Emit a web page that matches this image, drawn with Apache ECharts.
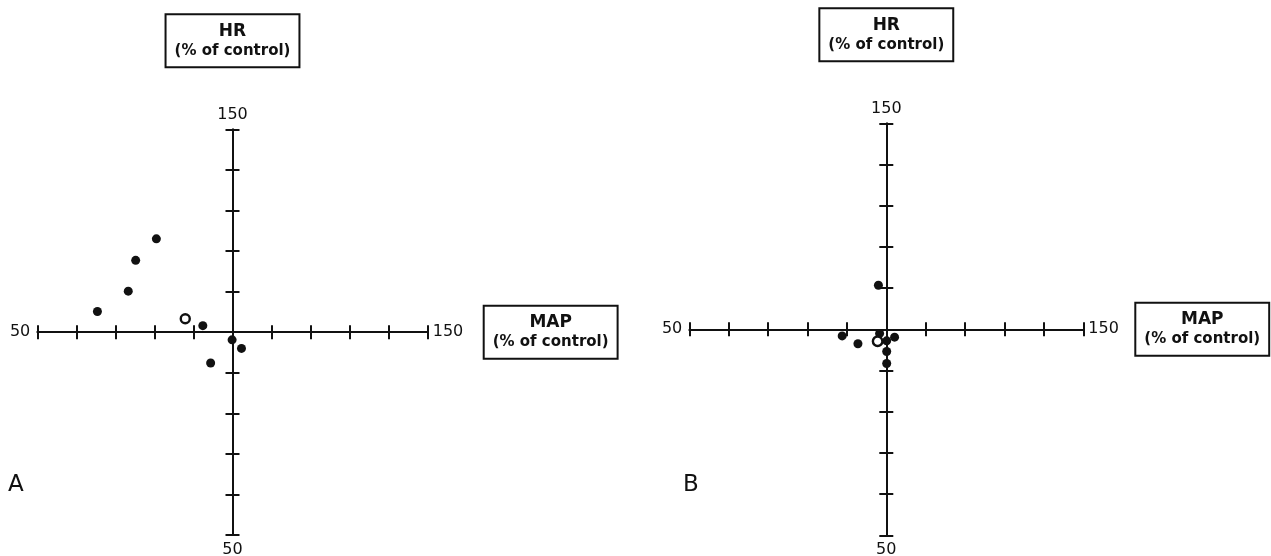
<!DOCTYPE html>
<html>
<head>
<meta charset="utf-8">
<script src="https://cdn.jsdelivr.net/npm/echarts@6/dist/echarts.min.js"></script>
<style>
  html, body { margin: 0; padding: 0; background: #fff; }
  #chart { width: 1271px; height: 556px; }
</style>
</head>
<body>
<div id="chart"></div>
<script>
// Panel A: mean arterial pressure vs heart rate, both as % of control
const mapA = [65.4, 73.3, 75.2, 80.5, 92.4, 99.9, 102.3, 94.4];
const hrA  = [105.1, 110.1, 117.7, 123.0, 101.6, 98.1, 96.0, 92.4];
const mapAOpen = [87.9];
const hrAOpen  = [103.3];

// Panel B
const mapB = [98.0, 88.8, 92.8, 98.3, 100.1, 102.1, 100.1, 100.1];
const hrB  = [110.7, 98.4, 96.5, 99.0, 97.2, 98.1, 94.6, 91.7];
const mapBOpen = [97.8];
const hrBOpen  = [97.1];

// Axis scale (% of control); axes cross at the control value
const axisMin = 50;
const axisMax = 150;
const axisStep = 10;
const control = 100;

const panelLetters = ['A', 'B'];
const hrTitle = 'HR';
const mapTitle = 'MAP';
const unitText = '(% of control)';

const FONT = "'DejaVu Sans', sans-serif";
const INK = '#111';

// Points are plotted as offsets from control so the axis lines sit on 0
const lo = axisMin - control;
const hi = axisMax - control;
const toPoints = (xs, ys) => xs.map((x, i) => [x - control, ys[i] - control]);

const boxStyle = {
  fontFamily: FONT,
  color: INK,
  borderColor: INK,
  borderWidth: 2,
  padding: [7, 9, 7, 9],
  rich: {
    t: { fontFamily: FONT, fontSize: 17, fontWeight: 'bold', lineHeight: 20, align: 'center', color: INK },
    u: { fontFamily: FONT, fontSize: 15, fontWeight: 'bold', lineHeight: 19, align: 'center', color: INK }
  }
};

const grids = [
  { left: 37.3, top: 129.3, width: 390.4, height: 405.7, outerBoundsMode: 'none' },
  { left: 689.3, top: 123.3, width: 394, height: 412, outerBoundsMode: 'none' }
];
const mapGap = [56, 52];
const hrGap = [62, 62];

const endLabel = v => (v === lo ? String(axisMin) : v === hi ? String(axisMax) : '');

const xAxes = [];
const yAxes = [];
grids.forEach((g, gi) => {
  const yPrimary = gi * 2;
  const xPrimary = gi * 2;
  // end labels sit beside the crossing lines, i.e. half the grid inward
  const xLabelShift = -g.height / 2;
  const yLabelShift = -g.width / 2;
  // main horizontal axis: line, downward ticks, end labels, MAP box
  xAxes.push({
    gridIndex: gi, type: 'value', min: lo, max: hi, interval: axisStep, position: 'bottom',
    axisLine: { show: true, onZero: true, onZeroAxisIndex: yPrimary, lineStyle: { color: INK, width: 2 } },
    axisTick: { show: true, inside: false, length: 7, lineStyle: { color: INK, width: 2 } },
    splitLine: { show: false },
    axisLabel: {
      show: true, margin: xLabelShift, verticalAlign: 'middle',
      alignMinLabel: 'right', alignMaxLabel: 'left',
      padding: [0, 7, 0, 5],
      fontFamily: FONT, fontSize: 16, color: INK,
      formatter: endLabel
    },
    name: '{t|' + mapTitle + '}\n{u|' + unitText + '}',
    nameLocation: 'end', nameGap: mapGap[gi], nameTextStyle: boxStyle
  });
  // companion horizontal axis: upward half of each tick
  xAxes.push({
    gridIndex: gi, type: 'value', min: lo, max: hi, interval: axisStep, position: 'bottom',
    axisLine: { show: false, onZero: true, onZeroAxisIndex: yPrimary },
    axisTick: { show: true, inside: true, length: 7, lineStyle: { color: INK, width: 2 } },
    splitLine: { show: false },
    axisLabel: { show: false }
  });
  // main vertical axis: line, left ticks, end labels, HR box
  yAxes.push({
    gridIndex: gi, type: 'value', min: lo, max: hi, interval: axisStep, position: 'left',
    axisLine: { show: true, onZero: true, onZeroAxisIndex: xPrimary, lineStyle: { color: INK, width: 2 } },
    axisTick: { show: true, inside: false, length: 7, lineStyle: { color: INK, width: 2 } },
    splitLine: { show: false },
    axisLabel: {
      show: true, margin: yLabelShift, align: 'center',
      verticalAlignMinLabel: 'top', verticalAlignMaxLabel: 'bottom',
      padding: [7, 0, 6, 0],
      fontFamily: FONT, fontSize: 16, color: INK,
      formatter: endLabel
    },
    name: '{t|' + hrTitle + '}\n{u|' + unitText + '}',
    nameLocation: 'end', nameGap: hrGap[gi], nameTextStyle: boxStyle
  });
  // companion vertical axis: right half of each tick
  yAxes.push({
    gridIndex: gi, type: 'value', min: lo, max: hi, interval: axisStep, position: 'left',
    axisLine: { show: false, onZero: true, onZeroAxisIndex: xPrimary },
    axisTick: { show: true, inside: true, length: 7, lineStyle: { color: INK, width: 2 } },
    splitLine: { show: false },
    axisLabel: { show: false }
  });
});

const filled = { color: INK, opacity: 1 };
const hollow = { color: '#fff', borderColor: INK, borderWidth: 2.4, opacity: 1 };

const series = [
  { type: 'scatter', xAxisIndex: 0, yAxisIndex: 0, symbol: 'circle', symbolSize: 9, itemStyle: filled, z: 3, data: toPoints(mapA, hrA) },
  { type: 'scatter', xAxisIndex: 0, yAxisIndex: 0, symbol: 'circle', symbolSize: 9, itemStyle: hollow, z: 4, data: toPoints(mapAOpen, hrAOpen) },
  { type: 'scatter', xAxisIndex: 2, yAxisIndex: 2, symbol: 'circle', symbolSize: 9, itemStyle: filled, z: 3, data: toPoints(mapB, hrB) },
  { type: 'scatter', xAxisIndex: 2, yAxisIndex: 2, symbol: 'circle', symbolSize: 9.5, itemStyle: hollow, z: 4, data: toPoints(mapBOpen, hrBOpen) }
];

const titles = panelLetters.map((letter, i) => ({
  text: letter,
  left: i === 0 ? 8 : 683,
  top: 474,
  padding: 0,
  textStyle: { fontFamily: FONT, fontSize: 23, fontWeight: 'normal', color: INK }
}));

const chart = echarts.init(document.getElementById('chart'), null, { renderer: 'canvas' });
chart.setOption({
  backgroundColor: '#fff',
  animation: false,
  title: titles,
  grid: grids,
  xAxis: xAxes,
  yAxis: yAxes,
  series: series
});
</script>
</body>
</html>
